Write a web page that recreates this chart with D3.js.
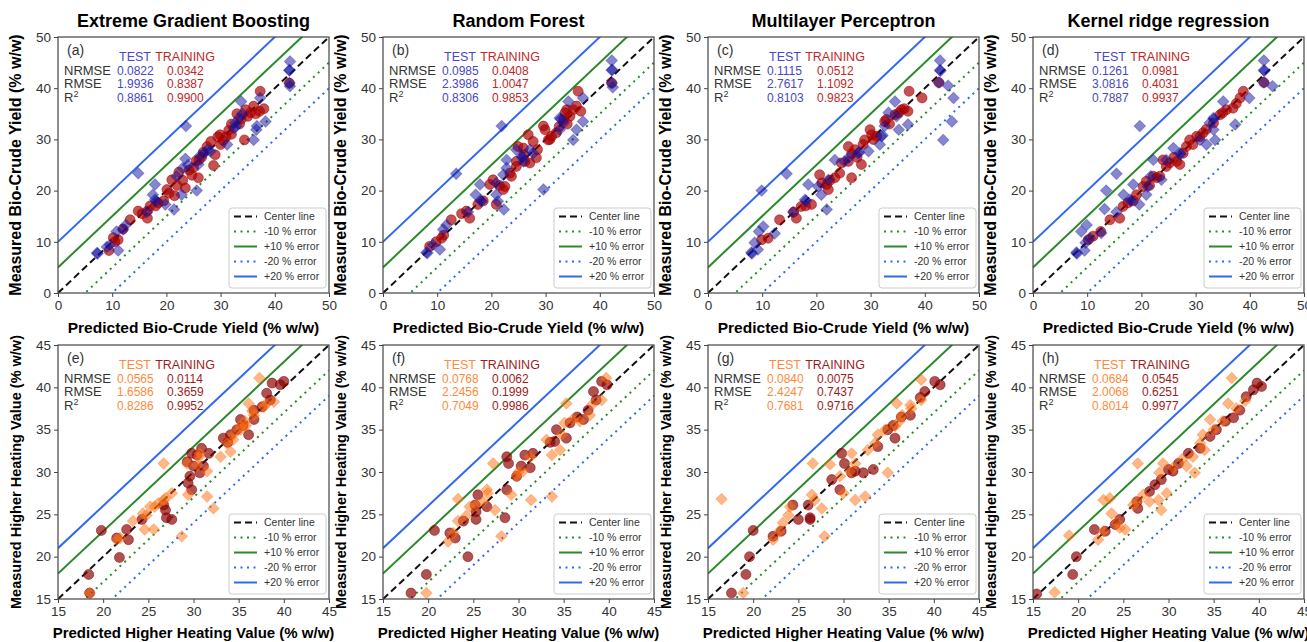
<!DOCTYPE html>
<html>
<head>
<meta charset="utf-8">
<title>Parity plots - bio-crude yield and HHV</title>
<script src="https://cdn.jsdelivr.net/npm/d3@7"></script>
<style>
    body { margin: 0; background: white; }
    svg { font-family: "Liberation Sans", Arial, sans-serif; }
    .tick text { fill: #333; font-size: 13.5px; }
    .tick line { stroke: #444; }
</style>
</head>
<body>
<svg id="chart" width="1307" height="642"></svg>
<script>
    var modelTitles = ['Extreme Gradient Boosting', 'Random Forest', 'Multilayer Perceptron', 'Kernel ridge regression'];
    var panelTags = [['(a)', '(b)', '(c)', '(d)'], ['(e)', '(f)', '(g)', '(h)']];
    var metricNames = ['NRMSE', 'RMSE', 'R'];
    var legendLabels = ['Center line', '-10 % error', '+10 % error', '-20 % error', '+20 % error'];
    var errorOffsets = [0, -0.1, 0.1, -0.2, 0.2];   // fraction of axis span
    var yieldTicks = [0, 10, 20, 30, 40, 50];
    var hhvTicks = [15, 20, 25, 30, 35, 40, 45];

    // metrics: [NRMSE, RMSE, R2]
    var yieldMetricsTest = [['0.0822', '1.9936', '0.8861'], ['0.0985', '2.3986', '0.8306'], ['0.1115', '2.7617', '0.8103'], ['0.1261', '3.0816', '0.7887']];
    var yieldMetricsTrain = [['0.0342', '0.8387', '0.9900'], ['0.0408', '1.0047', '0.9853'], ['0.0512', '1.1092', '0.9823'], ['0.0981', '0.4031', '0.9937']];
    var hhvMetricsTest = [['0.0565', '1.6586', '0.8286'], ['0.0768', '2.2456', '0.7049'], ['0.0840', '2.4247', '0.7681'], ['0.0684', '2.0068', '0.8014']];
    var hhvMetricsTrain = [['0.0114', '0.3659', '0.9952'], ['0.0062', '0.1999', '0.9986'], ['0.0075', '0.7437', '0.9716'], ['0.0545', '0.6251', '0.9977']];

    // points: [predicted, measured]
    var xgbYieldTest = [[42.8,45.2],[42.7,43.5],[42.7,43.5],[42.7,41.0],[42.8,40.4],[33.8,37.4],[37.3,38.1],[36.7,32.6],[38.3,33.5],[36.1,29.9],[36.6,31.9],[31.2,29.0],[32.7,33.2],[32.5,32.2],[32.9,32.6],[33.4,34.2],[23.6,32.6],[14.8,23.4],[17.9,21.2],[17.5,19.2],[17.9,18.2],[18.1,17.9],[19.8,17.3],[21.4,16.3],[22.8,19.2],[21.9,22.8],[23.0,24.4],[23.5,26.2],[24.0,25.0],[25.6,20.0],[25.9,25.1],[26.2,26.8],[27.0,27.3],[28.1,27.7],[27.6,28.0],[10.8,12.0],[11.1,8.3],[9.6,9.4],[9.0,9.0],[12.0,12.4],[12.5,13.3],[7.2,7.8],[7.3,7.7],[16.4,15.8],[34.0,35.0]];
    var xgbYieldTrain = [[9.4,8.3],[11.1,10.4],[10.5,10.0],[12.0,12.5],[13.3,14.3],[14.8,16.0],[16.5,16.0],[16.5,14.6],[18.5,17.6],[19.5,18.0],[20.1,20.2],[21.0,22.1],[21.5,19.0],[22.0,21.0],[22.3,23.6],[23.5,20.5],[24.7,23.0],[25.9,22.5],[25.0,24.5],[26.0,26.0],[27.5,28.6],[28.2,29.6],[28.7,24.9],[29.0,27.0],[30.0,29.0],[29.9,30.9],[31.0,30.5],[32.0,31.0],[32.0,33.0],[33.0,35.0],[34.6,35.8],[35.0,34.5],[34.4,29.9],[36.1,36.5],[37.2,35.5],[37.3,39.4],[38.0,36.0],[42.7,41.0],[25.5,25.8],[26.5,26.5],[24.2,24.0],[26.8,27.5],[29.5,30.5],[33.5,33.0],[35.5,35.2],[31.5,31.8],[20.5,19.5],[17.0,17.0],[15.5,15.5],[23.0,22.0],[30.5,29.8],[33.8,34.0],[36.5,35.0],[10.2,10.8],[18.0,17.0]];
    var rfYieldTest = [[42.2,45.4],[42.2,43.5],[42.3,43.6],[42.2,41.0],[42.4,40.2],[34.2,37.4],[36.9,38.1],[36.9,33.5],[35.7,31.9],[35.1,29.9],[29.6,20.2],[21.9,32.6],[13.5,23.3],[17.9,21.2],[17.1,19.2],[18.2,17.9],[18.0,18.1],[20.9,19.2],[21.2,17.9],[22.3,16.3],[20.9,21.5],[22.2,23.1],[22.8,26.0],[22.8,24.4],[24.6,28.0],[25.6,26.7],[25.7,26.5],[25.9,25.7],[27.1,28.0],[27.7,27.3],[32.6,31.9],[33.3,33.2],[11.1,12.4],[11.7,13.3],[10.5,8.5],[9.2,9.4],[8.0,7.9],[8.2,7.8],[15.7,15.8],[32.6,34.2],[32.8,34.0]];
    var rfYieldTrain = [[8.6,9.1],[10.8,10.7],[11.2,11.3],[12.6,14.3],[15.4,16.0],[16.0,14.6],[17.5,17.3],[19.7,21.2],[20.3,22.1],[20.9,17.3],[22.5,20.8],[22.2,20.2],[23.7,22.8],[24.6,24.7],[24.9,28.6],[25.9,28.3],[26.8,30.9],[27.1,25.4],[28.3,26.4],[29.9,31.9],[30.5,29.9],[31.1,30.6],[32.0,31.3],[33.3,33.9],[33.9,35.8],[35.1,35.8],[35.7,36.5],[36.0,39.4],[34.5,34.5],[33.6,35.2],[29.6,32.6],[27.7,29.6],[26.2,25.7],[24.6,25.7],[23.4,23.4],[21.5,21.0],[18.5,18.0],[26.0,27.0],[28.5,28.0],[30.8,30.0],[32.5,32.5],[34.0,33.0],[36.5,35.5],[42.2,41.0],[9.8,10.0],[14.5,15.5]];
    var mlpYieldTest = [[42.8,45.4],[42.8,43.5],[42.9,43.4],[42.6,41.1],[44.3,40.5],[45.3,38.1],[45.0,33.5],[43.4,29.9],[36.9,32.9],[35.2,31.9],[34.5,37.4],[33.3,35.2],[31.7,29.0],[32.6,32.6],[32.0,30.6],[32.2,30.8],[29.6,27.7],[27.7,27.3],[27.9,27.5],[25.2,25.7],[23.4,26.0],[22.2,22.1],[21.9,16.3],[20.3,20.8],[20.9,19.2],[18.5,21.2],[17.9,18.2],[18.1,18.0],[15.7,15.8],[14.5,23.3],[9.9,20.0],[10.2,13.0],[9.4,12.0],[12.3,11.6],[9.2,8.5],[8.0,7.9],[8.1,7.7],[8.6,9.8],[26.0,26.5],[34.8,34.5]];
    var mlpYieldTrain = [[9.9,10.4],[11.1,10.7],[13.2,14.3],[16.3,14.6],[17.2,16.9],[19.1,17.3],[20.6,23.1],[21.9,21.2],[22.2,20.2],[23.4,22.5],[24.6,25.4],[25.9,25.7],[26.5,22.5],[25.9,28.6],[27.1,28.0],[28.3,25.1],[28.9,29.9],[29.9,31.9],[30.2,30.9],[31.1,30.6],[32.9,33.9],[34.5,34.8],[35.7,35.8],[36.9,35.5],[37.1,39.4],[39.5,38.1],[32.6,33.5],[28.6,29.0],[24.3,23.4],[21.0,21.5],[15.8,15.8],[18.0,17.0],[26.5,27.2],[30.5,30.0],[33.5,33.0],[35.2,35.2],[36.2,36.0],[42.6,41.1],[22.5,22.0],[27.5,26.5]];
    var krrYieldTest = [[42.6,45.4],[42.6,43.5],[42.7,43.4],[42.6,41.1],[44.2,40.4],[39.9,38.1],[35.1,37.4],[37.3,32.9],[33.3,31.9],[33.6,29.9],[32.0,29.0],[32.6,33.2],[33.3,34.2],[33.4,34.0],[19.7,32.6],[22.2,26.0],[15.4,23.3],[13.5,20.0],[18.5,21.2],[13.2,16.4],[16.7,19.2],[17.9,18.2],[18.1,18.0],[19.6,17.3],[20.9,19.2],[21.2,20.8],[21.7,22.8],[23.7,22.1],[12.6,11.7],[9.9,13.3],[8.9,12.0],[9.7,9.8],[9.5,8.3],[8.0,7.9],[8.1,7.7],[10.5,10.7],[15.4,15.8],[24.6,26.0],[27.1,27.3],[27.2,27.1],[25.9,28.3],[30.8,29.9]];
    var krrYieldTrain = [[10.2,10.4],[11.1,11.1],[14.2,14.3],[16.0,14.6],[16.6,16.9],[17.5,17.6],[20.3,20.8],[20.9,21.8],[22.2,22.8],[23.4,22.8],[24.0,26.0],[25.2,25.4],[26.5,25.7],[27.1,25.1],[28.3,28.6],[28.9,29.9],[30.2,30.6],[31.4,31.3],[33.3,33.2],[34.5,34.8],[35.7,35.8],[36.9,36.1],[38.8,39.4],[38.2,38.1],[27.7,27.3],[24.6,24.7],[19.1,19.2],[32.0,32.0],[29.5,29.0],[26.0,26.5],[21.5,21.0],[35.0,35.2],[37.5,37.0],[42.6,41.1],[12.5,12.0],[18.5,18.0],[22.8,22.5],[30.8,30.5]];

    var xgbHhvTest = [[37.3,41.1],[36.1,38.1],[38.9,38.3],[37.8,37.7],[36.7,36.7],[35.7,36.0],[35.2,35.4],[35.2,35.0],[34.4,34.4],[34.4,33.8],[33.7,33.4],[33.0,31.8],[34.1,32.4],[30.7,32.2],[30.6,31.8],[30.4,30.8],[31.5,30.1],[29.3,31.0],[26.7,31.0],[31.5,27.1],[32.2,25.7],[28.7,22.4],[29.4,27.3],[27.6,27.5],[26.7,26.7],[26.1,26.3],[25.7,25.9],[25.2,25.9],[24.8,24.9],[24.4,25.1],[24.6,23.2],[25.6,23.2],[23.3,24.2],[21.9,22.2],[21.5,22.0],[18.5,15.7],[38.0,38.0],[36.5,37.2],[35.8,35.5],[26.9,26.9]];
    var xgbHhvTrain = [[40.0,40.7],[39.6,40.3],[38.7,40.5],[38.1,39.3],[37.6,37.7],[36.7,37.3],[36.7,36.2],[35.2,36.2],[34.8,35.0],[36.1,34.4],[34.1,34.4],[33.3,34.0],[30.9,32.8],[29.8,32.2],[29.3,31.2],[30.0,30.7],[31.1,30.7],[31.7,32.2],[30.4,32.0],[30.7,29.9],[29.6,29.5],[29.4,28.7],[29.8,27.9],[26.7,26.1],[26.9,25.5],[27.0,24.6],[27.6,24.4],[24.3,24.4],[22.6,23.2],[22.8,22.0],[19.8,23.1],[21.8,19.9],[18.4,17.9],[18.5,15.7],[21.5,22.2],[35.5,35.5],[38.5,38.5],[33.8,33.5]];
    var rfHhvTest = [[39.7,41.1],[35.3,38.1],[39.2,38.5],[37.9,36.7],[36.8,36.0],[35.1,35.8],[34.8,34.4],[34.6,32.6],[33.7,32.0],[33.1,33.8],[31.3,31.8],[30.5,30.1],[29.8,29.5],[27.2,31.0],[29.2,27.3],[31.4,26.7],[33.7,27.1],[28.1,22.4],[27.4,25.5],[26.6,27.5],[26.1,26.5],[25.3,26.1],[24.2,24.8],[24.6,25.9],[23.3,26.8],[23.3,24.2],[22.8,22.8],[22.2,21.8],[19.8,15.7],[26.5,27.9],[36.0,36.2],[38.2,38.0],[30.0,30.0]];
    var rfHhvTrain = [[39.8,40.3],[39.2,40.7],[38.3,39.5],[38.6,38.5],[37.7,37.3],[37.2,36.2],[35.7,35.8],[35.3,34.0],[34.2,35.0],[34.0,33.6],[31.6,32.2],[30.7,32.0],[28.7,31.8],[28.9,31.0],[30.3,30.7],[31.3,30.5],[29.8,29.5],[28.7,27.9],[28.5,24.6],[25.5,27.3],[25.2,26.1],[25.3,25.3],[25.3,24.4],[23.9,24.2],[23.0,22.2],[20.7,23.1],[24.4,20.0],[19.8,17.9],[18.1,15.7],[22.4,22.8],[26.5,25.9],[36.5,36.5],[33.5,33.5]];
    var mlpHhvTest = [[38.6,40.9],[35.9,38.1],[37.4,37.9],[38.6,38.5],[36.2,36.0],[35.7,35.4],[34.6,35.0],[33.8,34.4],[33.5,33.4],[32.7,32.6],[30.9,32.2],[31.3,31.0],[30.7,30.1],[28.5,30.9],[26.6,31.0],[29.6,29.5],[34.9,29.9],[30.0,27.5],[31.3,26.7],[32.4,27.1],[27.9,22.4],[27.6,25.7],[26.8,26.7],[26.5,27.3],[23.9,24.9],[24.1,25.9],[23.3,24.0],[22.9,23.0],[22.2,22.0],[18.9,15.7],[16.5,26.8],[37.5,37.5],[36.5,36.7]];
    var mlpHhvTrain = [[40.1,40.7],[40.7,40.3],[39.0,39.5],[38.5,38.8],[37.4,36.7],[36.4,36.5],[35.7,34.0],[34.9,35.0],[33.8,33.0],[29.8,32.2],[30.1,31.0],[31.3,30.1],[30.9,29.9],[32.2,29.9],[33.3,30.3],[28.7,29.1],[29.6,27.9],[26.1,26.1],[26.3,24.6],[26.3,24.4],[25.0,24.4],[24.4,26.1],[22.2,22.4],[20.0,23.1],[19.6,20.0],[19.2,17.9],[17.6,15.7],[23.1,23.0],[35.5,35.5]];
    var krrHhvTest = [[37.0,41.1],[36.6,38.1],[34.6,36.2],[35.0,35.0],[33.8,34.4],[33.5,33.4],[34.0,32.6],[32.7,31.8],[32.0,30.7],[32.9,29.9],[29.4,31.0],[29.0,29.9],[26.6,31.0],[29.8,27.5],[28.9,26.7],[27.9,26.5],[29.2,25.5],[27.2,27.3],[26.5,26.5],[26.1,26.1],[23.5,26.9],[22.8,26.7],[23.7,25.1],[24.3,24.0],[24.6,23.4],[25.2,23.2],[22.8,23.0],[22.2,22.0],[19.0,22.5],[17.4,15.8],[36.0,36.0],[37.5,37.5],[38.5,38.4],[30.5,30.5],[31.5,31.5]];
    var krrHhvTrain = [[39.8,40.5],[40.3,40.1],[39.4,39.7],[38.6,38.9],[37.9,37.3],[36.3,36.0],[35.3,35.0],[34.6,34.2],[33.5,32.8],[32.2,32.2],[31.1,31.0],[30.5,30.1],[29.2,29.1],[27.9,27.7],[26.6,25.7],[26.5,26.5],[24.6,24.4],[24.1,23.8],[23.0,23.0],[21.8,23.2],[19.8,20.0],[19.4,17.9],[15.4,15.6],[37.2,36.4],[30.0,30.3],[28.5,28.5]];

    var rows = [
        {
            domain: [0, 50], ticks: yieldTicks, top: 37, height: 256,
            xLabel: 'Predicted Bio-Crude Yield (% w/w)', yLabel: 'Measured Bio-Crude Yield (% w/w)',
            xLabelSize: 15.5, yLabelSize: 16,
            test: [xgbYieldTest, rfYieldTest, mlpYieldTest, krrYieldTest],
            train: [xgbYieldTrain, rfYieldTrain, mlpYieldTrain, krrYieldTrain],
            mTest: yieldMetricsTest, mTrain: yieldMetricsTrain,
            testFill: '#1010a0', trainFill: '#aa0000', testText: '#4848c4', trainText: '#c02828'
        },
        {
            domain: [15, 45], ticks: hhvTicks, top: 345, height: 254,
            xLabel: 'Predicted Higher Heating Value (% w/w)', yLabel: 'Measured Higher Heating Value (% w/w)',
            xLabelSize: 15, yLabelSize: 14.5,
            test: [xgbHhvTest, rfHhvTest, mlpHhvTest, krrHhvTest],
            train: [xgbHhvTrain, rfHhvTrain, mlpHhvTrain, krrHhvTrain],
            mTest: hhvMetricsTest, mTrain: hhvMetricsTrain,
            testFill: '#ff7010', trainFill: '#8b0000', testText: '#ff8a3a', trainText: '#a01c1c'
        }
    ];

    var lineStyles = [
        { color: '#111', dash: '7,4' },
        { color: '#2a8a2a', dash: '2,4.5' },
        { color: '#2a8a2a', dash: null },
        { color: '#3068f0', dash: '2,4.5' },
        { color: '#3068f0', dash: null }
    ];

    var svg = d3.select('#chart');
    var panelW = 271;
    var diamond = d3.symbol().type(d3.symbolSquare).size(66)();

    // column titles
    modelTitles.forEach(function(t, c) {
        svg.append('text')
            .attr('x', 58 + c * 325 + panelW / 2)
            .attr('y', 27)
            .attr('text-anchor', 'middle')
            .style('font-size', '18px')
            .style('font-weight', 'bold')
            .text(t);
    });

    rows.forEach(function(row, r) {
        for (var c = 0; c < 4; ++c) {
            var left = 58 + c * 325;
            var g = svg.append('g').attr('transform', 'translate(' + left + ',' + row.top + ')');

            var x = d3.scaleLinear().domain(row.domain).range([0, panelW]);
            var y = d3.scaleLinear().domain(row.domain).range([row.height, 0]);
            var span = row.domain[1] - row.domain[0];

            var clipId = 'clip' + r + c;
            g.append('clipPath').attr('id', clipId)
                .append('rect').attr('width', panelW).attr('height', row.height);

            var plot = g.append('g').attr('clip-path', 'url(#' + clipId + ')');

            // reference lines
            errorOffsets.forEach(function(off, i) {
                var d0 = row.domain[0], d1 = row.domain[1];
                plot.append('line')
                    .attr('x1', x(d0)).attr('y1', y(d0 + off * span))
                    .attr('x2', x(d1)).attr('y2', y(d1 + off * span))
                    .attr('stroke', lineStyles[i].color)
                    .attr('stroke-width', 2)
                    .attr('stroke-dasharray', lineStyles[i].dash);
            });

            // training circles
            plot.selectAll('circle.train')
                .data(row.train[c])
            .enter().append('circle')
                .attr('class', 'train')
                .attr('cx', function(d) { return x(d[0]); })
                .attr('cy', function(d) { return y(d[1]); })
                .attr('r', 5)
                .attr('fill', row.trainFill)
                .attr('fill-opacity', 0.68)
                .attr('stroke', row.trainFill)
                .attr('stroke-opacity', 0.5)
                .attr('stroke-width', 1);

            // test diamonds
            plot.selectAll('path.test')
                .data(row.test[c])
            .enter().append('path')
                .attr('class', 'test')
                .attr('d', diamond)
                .attr('transform', function(d) { return 'translate(' + x(d[0]) + ',' + y(d[1]) + ') rotate(45)'; })
                .attr('fill', row.testFill)
                .attr('fill-opacity', 0.5)
                .attr('stroke', row.testFill)
                .attr('stroke-opacity', 0.3)
                .attr('stroke-width', 1);

            // axes
            g.append('g')
                .attr('transform', 'translate(0,' + row.height + ')')
                .call(d3.axisBottom(x).tickValues(row.ticks).tickSize(4).tickPadding(3).tickSizeOuter(0))
                .call(function(a) { a.select('.domain').remove(); });
            g.append('g')
                .call(d3.axisLeft(y).tickValues(row.ticks).tickSize(4).tickPadding(3).tickSizeOuter(0))
                .call(function(a) { a.select('.domain').remove(); });

            g.append('rect')
                .attr('width', panelW).attr('height', row.height)
                .attr('fill', 'none').attr('stroke', '#444').attr('stroke-width', 1.2);

            // metrics block
            g.append('text').attr('x', 9).attr('y', 18)
                .style('font-size', '14px').attr('fill', '#333').text(panelTags[r][c]);
            g.append('text').attr('x', 77).attr('y', 24).attr('text-anchor', 'middle')
                .style('font-size', '12.5px').attr('fill', row.testText).text('TEST');
            g.append('text').attr('x', 127).attr('y', 24).attr('text-anchor', 'middle')
                .style('font-size', '12.5px').attr('fill', row.trainText).text('TRAINING');
            metricNames.forEach(function(m, i) {
                var yy = 37.5 + i * 13.5;
                var t = g.append('text').attr('x', 6).attr('y', yy)
                    .style('font-size', '13px').attr('fill', '#333').text(m);
                if (i === 2) {
                    t.append('tspan').attr('dy', -5).style('font-size', '9px').text('2');
                }
                g.append('text').attr('x', 59).attr('y', yy)
                    .style('font-size', '12px').attr('fill', row.testText).text(row.mTest[c][i]);
                g.append('text').attr('x', 109).attr('y', yy)
                    .style('font-size', '12px').attr('fill', row.trainText).text(row.mTrain[c][i]);
            });

            // legend
            var lg = g.append('g').attr('transform', 'translate(' + (panelW - 100) + ',' + (row.height - 85) + ')');
            lg.append('rect').attr('width', 97).attr('height', 80).attr('rx', 3)
                .attr('fill', 'white').attr('fill-opacity', 0.85)
                .attr('stroke', '#ccc').attr('stroke-width', 1);
            legendLabels.forEach(function(lab, i) {
                var ly = 8.5 + i * 15;
                lg.append('line')
                    .attr('x1', 5).attr('x2', 28).attr('y1', ly).attr('y2', ly)
                    .attr('stroke', lineStyles[i].color).attr('stroke-width', 2)
                    .attr('stroke-dasharray', lineStyles[i].dash);
                lg.append('text').attr('x', 35).attr('y', ly + 3.8)
                    .style('font-size', '10.5px').attr('fill', '#333').text(lab);
            });

            // axis titles
            g.append('text')
                .attr('x', panelW / 2)
                .attr('y', r === 0 ? row.height + 40 : row.height + 39)
                .attr('text-anchor', 'middle')
                .style('font-size', row.xLabelSize + 'px').style('font-weight', 'bold')
                .text(row.xLabel);
            g.append('text')
                .attr('transform', 'translate(-37,' + row.height / 2 + ') rotate(-90)')
                .attr('text-anchor', 'middle')
                .style('font-size', row.yLabelSize + 'px').style('font-weight', 'bold')
                .text(row.yLabel);
        }
    });
</script>
</body>
</html>
